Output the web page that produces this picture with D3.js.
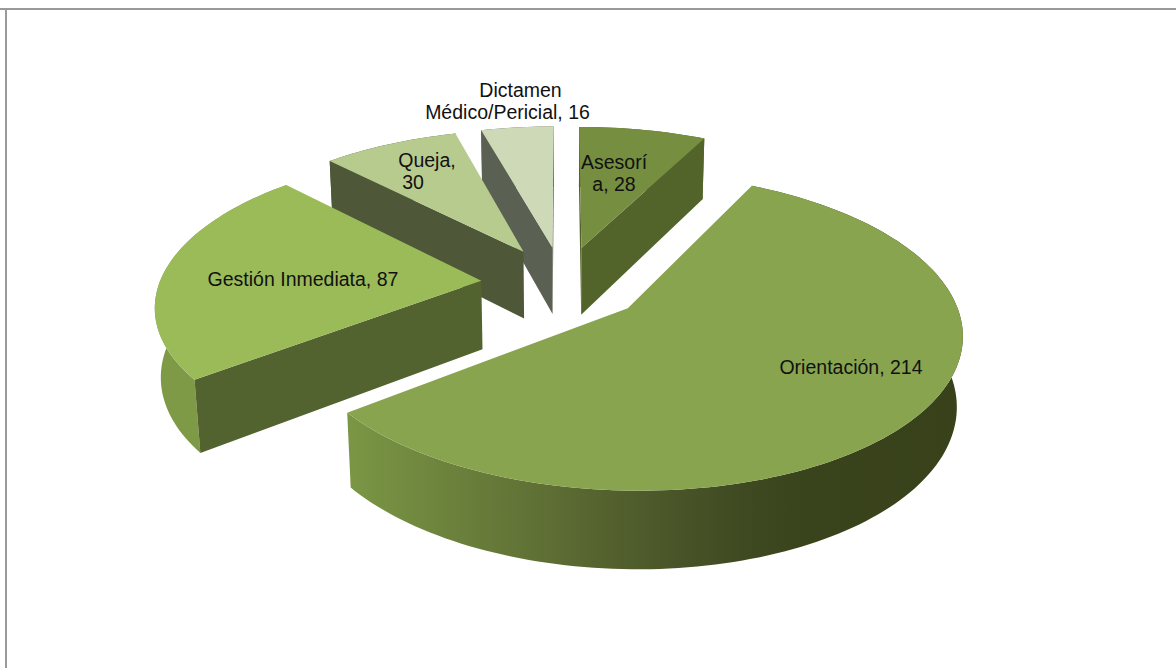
<!DOCTYPE html>
<html>
<head>
<meta charset="utf-8">
<title>Tipo de atención</title>
<script src="https://cdn.jsdelivr.net/npm/d3@7"></script>
<style>
	html, body { margin: 0; padding: 0; background: #fff; }
	svg { display: block; }
	text { font-family: "Liberation Sans", Arial, sans-serif; font-size: 19.5px; fill: #111; }
</style>
</head>
<body>
<div id="chart"></div>
<script>

var categories = ["Asesoría", "Orientación", "Gestión Inmediata", "Queja", "Dictamen Médico/Pericial"];
var values     = [28, 214, 87, 30, 16];

// colours, one per slice
var topColors  = ["#758e40", "#88a44f", "#9bbb59", "#b8cb8e", "#cdd9b7"];
var cutColors  = ["#52642a", "#5d6c33", "#536330", "#4e5738", "#5a6152"];
var wallColors = ["#52642a", null, "#7f9a47", "#4e5738", "#5a6152"];

// how each label is wrapped, lines in the same order as the categories
var labelLines = [
	["Asesorí", "a, 28"],
	["Orientación, 214"],
	["Gestión Inmediata, 87"],
	["Queja,", "30"],
	["Dictamen", "Médico/Pericial, 16"]
];
var labelSpots = [
	[[614, 169], [614, 191]],
	[[851, 374]],
	[[303, 286]],
	[[427, 167], [413, 189]],
	[[520.5, 97], [507.5, 119]]
];

var width = 1176, height = 668;

// camera for the tilted pie, all lengths in pie radii
var cam = { cx: 563, cy: 283.5, a: 322, tilt: 27.4 * Math.PI / 180, dist: 6.12 };
var focal   = cam.a * cam.dist;
var thick   = 0.243;
var explode = 0.255;

function project( x, y, h ) {
	var c = Math.cos( cam.tilt ), s = Math.sin( cam.tilt );
	// the base shrinks a bit less than a true camera would give
	var w = cam.dist - y * c + 0.8 * h * s;
	return [ cam.cx + x * focal / w, cam.cy + ( y * s + h * c ) * focal / w ];
}

function polyPath( pts ) {
	var p = d3.path();
	pts.forEach( function( q, i ) {
		if ( i == 0 ) p.moveTo( q[0], q[1] );
		else p.lineTo( q[0], q[1] );
	});
	p.closePath();
	return p.toString();
}

var svg = d3.select("#chart")
	.append("svg")
	.attr("width", width)
	.attr("height", height);

// frame only shows on top and left
svg.append("line").attr("x1", 0).attr("y1", 9).attr("x2", width).attr("y2", 9)
	.attr("stroke", "#9a9a9a").attr("stroke-width", 2);
svg.append("line").attr("x1", 6).attr("y1", 8).attr("x2", 6).attr("y2", height)
	.attr("stroke", "#9a9a9a").attr("stroke-width", 2);

var grad = svg.append("defs").append("linearGradient")
	.attr("id", "orientWall")
	.attr("gradientUnits", "userSpaceOnUse")
	.attr("x1", 345).attr("y1", 0).attr("x2", 963).attr("y2", 0);

[ [0, "#7b9745"], [0.33, "#5e6e34"], [0.46, "#505d2c"], [0.64, "#3f4a22"], [0.74, "#3a441c"], [1, "#384119"] ].forEach( function( d ) {
	grad.append("stop").attr("offset", d[0]).attr("stop-color", d[1]);
});

var slices = d3.pie().sort( null ).value( function( d ) { return d; } )( values );

// dibujar de atras hacia adelante
var drawOrder = [4, 3, 0, 2, 1];

drawOrder.forEach( function( i ) {
	var d   = slices[i];
	var mid = ( d.startAngle + d.endAngle ) / 2;
	var ox  = explode * Math.sin( mid );
	var oy  = -explode * Math.cos( mid );

	var steps = Math.ceil( ( d.endAngle - d.startAngle ) * 40 );
	var arcTop = [], arcBottom = [];
	for ( var k = 0; k <= steps; k++ ) {
		var t = d.startAngle + ( d.endAngle - d.startAngle ) * k / steps;
		arcTop.push( project( ox + Math.sin( t ), oy - Math.cos( t ), 0 ) );
		arcBottom.push( project( ox + Math.sin( t ), oy - Math.cos( t ), thick ) );
	}
	var apexTop    = project( ox, oy, 0 );
	var apexBottom = project( ox, oy, thick );

	var g = svg.append("g").attr("class", "slice");

	g.append("path")
		.attr("d", polyPath( arcTop.concat( arcBottom.slice().reverse() ) ))
		.attr("fill", wallColors[i] || "url(#orientWall)");

	// only the cut faces turned to the viewer are drawn
	var startFace = [ apexTop, arcTop[0], arcBottom[0], apexBottom ];
	var endFace   = [ arcTop[steps], apexTop, apexBottom, arcBottom[steps] ];
	[ startFace, endFace ].forEach( function( face ) {
		if ( d3.polygonArea( face ) > 0 ) {
			g.append("path")
				.attr("d", polyPath( face ))
				.attr("fill", cutColors[i]);
		}
	});

	g.append("path")
		.attr("d", polyPath( [ apexTop ].concat( arcTop ) ))
		.attr("fill", topColors[i]);
});

categories.forEach( function( c, i ) {
	labelLines[i].forEach( function( line, j ) {
		svg.append("text")
			.attr("x", labelSpots[i][j][0])
			.attr("y", labelSpots[i][j][1])
			.attr("text-anchor", "middle")
			.text( line );
	});
});

</script>
</body>
</html>
